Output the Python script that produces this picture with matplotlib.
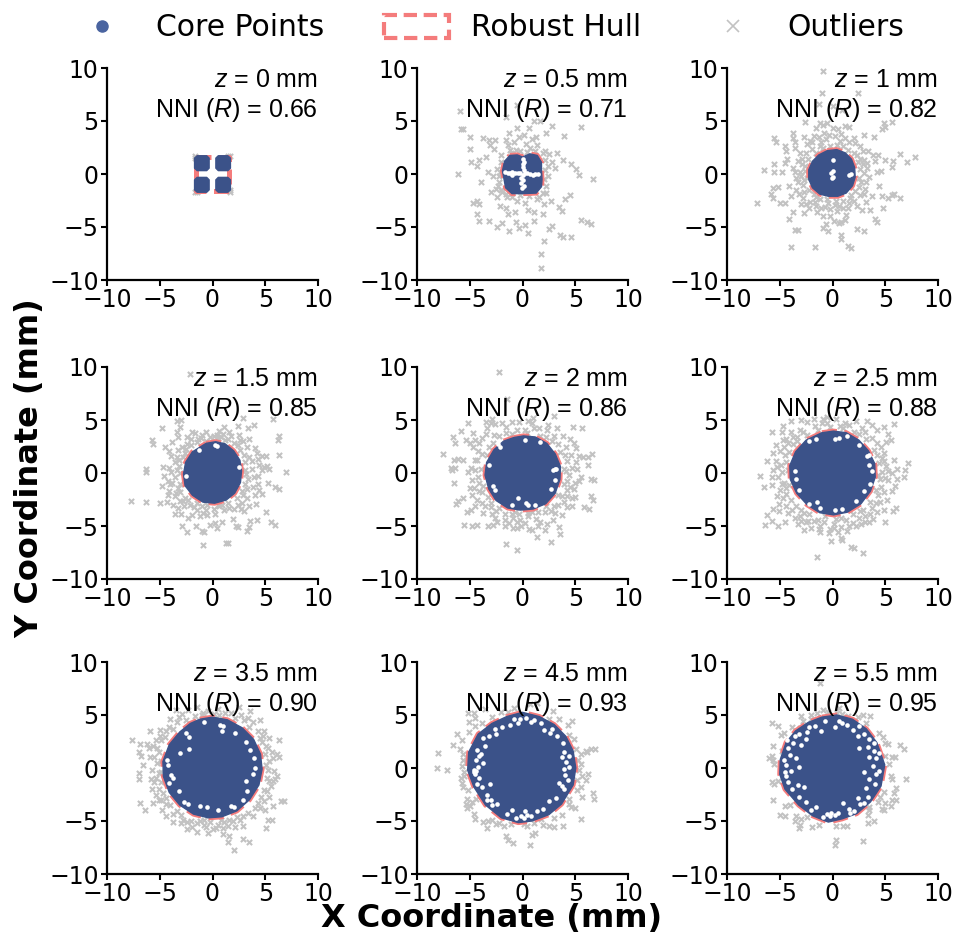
import matplotlib
matplotlib.use("Agg")
import matplotlib.pyplot as plt
from matplotlib.lines import Line2D
from matplotlib.patches import Patch

# All values are hand-read estimates from the reference. The outlier lists are a
# subset of what the picture shows, and the dense core is drawn as a filled outline
# with its visible holes listed, rather than as thousands of individual points.
z_labels = ["0", "0.5", "1", "1.5", "2", "2.5", "3.5", "4.5", "5.5"]
nni_values = ["0.66", "0.71", "0.82", "0.85", "0.86", "0.88", "0.90", "0.93", "0.95"]
axis_ticks = [-10, -5, 0, 5, 10]

hull_z0 = [(-1.6,1.6),(1.6,1.6),(1.6,-1.6),(-1.6,-1.6)]
hull_z05 = [(-1.2,1.75),(-.5,1.8),(0,1.6),(.7,1.9),(1.4,1.75),(1.8,1.1),(1.8,.3),(1.85,-.5),(1.8,-1.2),(1.3,-1.8),(0,-1.85),(-1,-1.85),(-1.6,-1.3),(-1.75,-.5),(-1.9,.3),(-1.7,1.2)]
hull_z1 = [(-.5,2.2),(.4,2.3),(1.2,2),(1.8,1.4),(2.1,.6),(2.15,-.3),(1.9,-1.1),(1.3,-1.8),(.5,-2.1),(-.4,-2.1),(-1.2,-1.9),(-1.9,-1.3),(-2.25,-.5),(-2.25,.4),(-1.9,1.2),(-1.3,1.8)]
hull_z15 = [(-.6,2.8),(.3,2.95),(1.2,2.75),(2,2.1),(2.6,1.2),(2.75,.2),(2.65,-.9),(2.1,-1.9),(1.3,-2.55),(.2,-2.85),(-.9,-2.75),(-1.9,-2.1),(-2.6,-1.2),(-2.75,-.1),(-2.55,1),(-1.9,2)]
hull_z2 = [(-.8,3.35),(.1,3.5),(1.2,3.4),(2.3,2.8),(3.1,1.8),(3.6,.6),(3.55,-.6),(3.1,-1.9),(2.2,-2.9),(1,-3.4),(-.2,-3.5),(-1.4,-3.3),(-2.5,-2.6),(-3.2,-1.5),(-3.55,-.2),(-3.4,1),(-2.7,2.2),(-1.8,3)]
hull_z25 = [(-1,3.8),(.1,3.95),(1.3,3.8),(2.5,3.1),(3.4,2.1),(4,.9),(4.05,-.4),(3.6,-1.7),(2.7,-2.9),(1.4,-3.7),(.1,-3.95),(-1.2,-3.75),(-2.4,-3),(-3.4,-1.9),(-4,-.6),(-4.05,.7),(-3.5,2),(-2.5,3.1)]
hull_z35 = [(-1.2,4.6),(0,4.8),(1.4,4.55),(2.8,3.8),(3.9,2.7),(4.55,1.3),(4.7,-.1),(4.4,-1.6),(3.5,-3),(2.3,-4.05),(.9,-4.6),(-.4,-4.7),(-1.8,-4.35),(-3.1,-3.5),(-4.1,-2.3),(-4.65,-.8),(-4.7,.6),(-4.1,2.2),(-3.1,3.4),(-2.1,4.2)]
hull_z45 = [(-1.5,4.85),(0,5.25),(1.6,4.85),(3,4.1),(4.1,3),(4.8,1.6),(5.05,0),(4.8,-1.6),(3.7,-3.4),(2.5,-4.4),(.9,-5),(-.4,-5.15),(-2,-4.7),(-3.5,-3.5),(-4.6,-1.8),(-5.2,-.2),(-5.1,1.5),(-4.2,3.2),(-2.9,4.2)]
hull_z55 = [(-1,4.8),(.4,5),(1.9,4.6),(3.2,3.7),(4.2,2.4),(4.95,.3),(4.6,-1.7),(3.6,-3.2),(2.3,-4.3),(.9,-4.8),(-.4,-5.1),(-1.9,-4.5),(-3.2,-3.5),(-4.5,-2),(-5,-.6),(-4.95,.8),(-4.4,2.4),(-3.5,3.5),(-2.3,4.3)]

core_blobs_z0 = [
    [(-1.45,1.72),(-.55,1.72),(-.32,1.5),(-.32,.55),(-.55,.32),(-1.45,.32),(-1.7,.55),(-1.7,1.5)],
    [(.55,1.72),(1.45,1.72),(1.7,1.5),(1.7,.55),(1.45,.32),(.55,.32),(.32,.55),(.32,1.5)],
    [(-1.45,-.32),(-.55,-.32),(-.32,-.55),(-.32,-1.5),(-.55,-1.72),(-1.45,-1.72),(-1.7,-1.5),(-1.7,-.55)],
    [(.55,-.32),(1.45,-.32),(1.7,-.55),(1.7,-1.5),(1.45,-1.72),(.55,-1.72),(.32,-1.5),(.32,-.55)],
]

gaps_z0 = []
gaps_z05 = [(-1.4,.05),(-1.2,.1),(-.95,-.05),(-.7,.08),(-.45,.05),(-.2,.05),(0,-.05),(.2,.1),(.45,.05),(.7,-.02),(.95,-.05),(1.2,0),(1.45,.0),(.1,.4),(0,.65),(.05,.9),(.1,1.15),(.05,1.4),(-.1,-.35),(.05,-.6),(-.1,-.85),(.1,-1.1),(-.05,-1.35),(-1.65,.15),(-.95,.2)]
gaps_z1 = [(0,1.3),(0,.3),(.05,-.3),(-.05,-.4),(1.8,0),(1.55,-.05),(-.1,.05)]
gaps_z15 = [(.2,2.6),(.4,2.55),(-1.3,2.2),(2.5,.6),(-2.5,-.3)]
gaps_z2 = [(-2.3,2.7),(-2.1,2.5),(3.2,.4),(3.05,.35),(2.9,.3),(-3.2,.8),(1.7,2.9),(-2.8,-1.2),(-2.6,-1.6),(-.4,-2.4),(.3,-2.8),(.5,-3),(1.2,-3),(-1,-3),(3.1,-.7),(2.7,-1.5),(.2,3.1)]
gaps_z25 = [(-2.2,3),(-1.6,3.2),(.2,3.2),(.6,3.3),(1.4,3.5),(2.5,2.6),(3.3,1.6),(3.5,1.7),(3.5,.8),(-3.6,.2),(-3.5,-.6),(-3.2,-1.6),(-2.2,-2.9),(-1.5,-2.7),(-1.2,-3.3),(.2,-3.5),(.9,-3.4),(2.2,-2.6),(3,-1.7),(3.6,-1),(3.7,.2)]
gaps_z35 = [(-2.5,3.3),(-2.2,2.9),(.7,4.1),(1,4),(.9,3.5),(2.1,3.3),(3.2,2.5),(3.6,1.7),(3.9,.9),(4,0),(3.8,-.6),(3.2,-1.2),(-4.3,.8),(-4.2,.3),(-3.9,-.7),(-3.7,-.9),(-4.1,-1.4),(-3.2,-2.2),(-2.7,-3.2),(-2.3,-3.4),(-1.2,-3.6),(-.5,-3.7),(.5,-4),(1.8,-3.6),(2,-3.7),(2.9,-3),(3.3,-2.2),(-2.2,1.8),(-3.1,1.4),(-.8,4.3)]
gaps_z45 = [(-1.2,4.1),(-.4,4.2),(-.2,4.6),(.3,4.7),(.8,4.3),(1.8,4.2),(2,3.6),(2.6,3.3),(3.3,3),(3.8,2.4),(3.9,1.5),(3.7,1),(4.1,.6),(3.9,-.1),(4,-.7),(4.3,-1.1),(3.5,-1.4),(3.9,-2),(3.2,-2.8),(2.5,-3.1),(1.9,-3.9),(.8,-4.5),(.2,-4.1),(-.6,-4.7),(-1,-4),(-1.5,-4.3),(-2.4,-3.4),(-3,-3),(-3.4,-2.5),(-3.8,-1.8),(-3.1,-1.5),(-4.3,-1.5),(-4.5,-.6),(-4.6,-.2),(-4.4,.8),(-3.9,1.3),(-4.3,1.7),(-3.6,2.1),(-3.2,3),(-2.5,3.2),(-1.9,3.9),(-4.1,-.9),(-4.6,-.4),(-4.4,-.3),(-4.2,.1),(-3.7,.5),(-4.1,1.1),(-3.4,-3),(-2.9,-3.5),(-.1,-4.5),(.4,-4.4),(.1,-4.7),(1.4,-4.1),(3.7,-1.7),(4.4,.1),(4.4,1.1),(2.8,3.7),(1.1,4.5),(-.8,4.6),(-2.6,3.7),(-3.7,2.8)]
gaps_z55 = [(-.7,4.4),(.2,3.9),(.6,4.4),(1.4,4.1),(1.9,3.6),(2.5,4),(3,3.2),(2.4,3),(3.5,2.7),(3.4,2),(3.9,1.6),(4.1,.9),(3.5,1),(3.8,.2),(4.1,-.6),(3.5,-1),(4,-1.5),(3.2,-1.9),(3.4,-2.7),(2.4,-2.8),(2.6,-3.4),(1.6,-3.9),(1,-3.3),(.5,-4.2),(-.5,-4.3),(-.9,-4.6),(-1.6,-3.7),(-2,-4),(-2.5,-3.2),(-3.2,-2.7),(-3.8,-2),(-3.3,-1.6),(-4.2,-1.3),(-4.5,-.4),(-3.9,-.3),(-4.4,.3),(-4,1.2),(-3.5,.9),(-4.2,1.9),(-3.7,2.4),(-3,2.2),(-3.2,3.2),(-2.4,3.4),(-2.5,2.7),(-1.7,4),(-1.1,3.5),(-2.7,-1.8),(2.5,1.9),(3,-.4),(-3.2,.1),(-.2,-4.5),(.2,-4.4),(-.1,-4.2),(-4.4,-.8),(-4.6,.8),(-4.3,2.6),(-3.6,3),(1.7,-4.2),(2,-4.1),(3,-3.3),(4.4,-.3),(4.4,1.4),(3.9,2.4),(.9,4.2),(-2.2,3.9)]

outliers_z0 = [(-1.7,1.7),(1.7,1.7),(-1.7,-1.7),(1.7,-1.7),(-1.65,1.5),(1.65,-1.5),(-1.5,-1.7),(1.5,1.7)]
outliers_z05 = [(-5.9,5.9),(-5.8,4.2),(-5.6,4.2),(-5,3.5),(-5,2.4),(-4.9,1.1),(-6.1,0),(-4.1,1.3),(-4.3,.8),(-3.7,3.4),(-3.2,3.2),(-2.6,3.2),(-3.1,2.7),(-2.7,2.4),(-3.5,1.6),(-3.3,.2),(-3.9,-.8),(-2.8,-.2),(-3,-1.7),(-2.5,-1.4),(-4.3,-2.5),(-4.7,-2.7),(-4.1,-2.8),(-2.4,-2.2),(-2.1,-3),(-1.6,-3.2),(-4.3,-3.8),(-4.1,-4.4),(-3.2,-4.4),(-1.9,-4.6),(-2.4,-5),(-1.3,-5.4),(-.6,-4.5),(.2,-4.8),(-.3,-5.1),(.5,-5.6),(1.1,-4.4),(1.9,-3.8),(1.1,-3.6),(.5,-3.4),(-.7,-3.6),(-1.4,-3.8),(2.8,-4.9),(2.5,-5.2),(2,-6.3),(1.8,-7.5),(1.8,-8.9),(3.6,-5.8),(3.8,-5.9),(4.6,-5.9),(5.5,-4.3),(6.1,-4.5),(6.5,-4.7),(4.5,-2),(4,-2.4),(3.5,-3.1),(3.7,-3.5),(6.7,-.5),(5.4,-.1),(5.1,.5),(4.6,.9),(3.8,1.3),(3.3,2),(3.9,3.6),(5.5,4.4),(2.8,4.5),(2.2,3.9),(1.3,3.5),(.6,4.3),(-.5,4.3),(-1.3,3.9),(-1.6,3.2),(-1.4,2.7),(-.3,3.5),(.3,2.8),(1.4,2.7),(2.1,2.2),(2.5,1.9),(2.8,1.1),(2.4,.8),(3.1,.6),(2.2,-1.1),(2.4,-.2),(-2.2,-.8),(-2.4,.5),(-1.9,-1.7),(-1,-2.2),(-.5,-2.5),(.2,-2.7),(1.4,-2.4),(2,-2.8),(-1.6,5.4),(-.5,6.5),(1.1,5),(1.7,5),(2.7,-2.5),(1.6,-2.2),(-1.2,2.3),(-.8,3),(.7,2.5),(-2,1.8),(-2.2,-.2),(-2.3,-1.1),(-1.5,-2.2),(1.9,2),(-.6,2.3),(.1,3.7),(.9,3.3),(-.2,-2),(.6,-2.1),(2.2,-1.8),(-.2,2.2),(.4,2.1),(-1.1,2),(-2,1.1),(-2.1,.2),(-2,-1.5),(1.2,2.2),(2.1,1.3),(2.1,.4),(2,-.5),(1.9,-1.8),(-1.6,-1.9)]
outliers_z1 = [(-.9,9.7),(-1,7.6),(2.4,7.6),(-1.3,6.6),(0,6.4),(.9,6),(-2.6,4.9),(-1.2,4.8),(-.5,4.8),(-1.6,4.3),(-.9,4.6),(0,4.3),(.5,4.2),(1.2,4.5),(1.6,4.4),(3,3.7),(3.9,3.5),(4.9,4.8),(4.7,4.2),(5,4.4),(5.6,4.9),(-3.7,3.9),(-3.7,3.4),(-3.6,3),(-5.5,3.4),(-5.4,3),(-4.5,2.6),(-4.4,2.2),(-3.6,2.5),(-2.7,3.5),(-2.4,2.8),(-1.8,3.6),(-1.1,3),(-.6,3.3),(.2,3.6),(.7,3.1),(1.6,3),(2.1,2.9),(2.6,2.6),(3.4,2.2),(3.8,1.8),(4.3,1.8),(4,1.2),(5,1.3),(5.7,1.2),(6.4,1.9),(7.1,1.1),(7.8,1.6),(5.6,.7),(4.6,.3),(4.2,.2),(3.3,.6),(2.9,.9),(3.5,-.3),(-6.5,.4),(-5.5,.9),(-5.5,.2),(-4.8,.2),(-4.5,1),(-4.3,1.4),(-3.7,.6),(-3.1,.2),(-3.3,-.8),(-2.8,-1),(-2.6,.3),(-2.9,1.4),(-1.9,2.4),(-1.2,2.6),(-7.2,-2.7),(-5.8,-1.9),(-5.6,-2.3),(-5,-2.7),(-4.5,-2.7),(-5.6,-1.3),(-5.2,-1.2),(-4.1,-1.1),(-3.9,-2.1),(-3.5,-1.5),(-2.8,-2.3),(-2.5,-2.8),(-3.7,-3.6),(-4.1,-4.2),(-3.6,-5.3),(-3.3,-5.3),(-2.7,-3.7),(-2.2,-3.2),(-1.7,-2.6),(-1.1,-3.2),(-.9,-4),(-.6,-4.7),(-.9,-5.1),(-.4,-5.4),(.1,-4.4),(.6,-4.6),(.8,-4.5),(.4,-3.5),(1,-3.2),(1.6,-2.7),(2.3,-3),(2.6,-2),(3,-1.9),(3.7,-2.1),(3.6,-3.4),(4,-4.2),(4.2,-4.5),(4.8,-3.2),(5.3,-2.3),(6.4,-2.3),(5.8,-1.9),(5.6,-2),(4.7,-2.1),(4.4,-1.1),(3,-5.4),(2.3,-5.2),(.8,-5.8),(.8,-6.1),(1.5,-6.8),(1.8,-7),(-3.9,-6.9),(-1.7,-6.9),(1.3,-3.9),(-1.6,-2.2),(-.4,-2.7),(.3,-2.5),(1.8,-2),(2.3,1.8),(2.6,1.4),(-2.5,2),(-2.7,-1.7),(-2.4,-.4),(-2.9,.9),(2.7,-.8),(3,.1)]
near_z1 = [(-.9,2.5),(-.2,2.6),(.4,2.7),(1,2.6),(1.5,2.3),(2,2),(2.4,1.1),(2.6,.5),(2.5,-.4),(2.5,-1.2),(2.1,-1.6),(1.7,-2.3),(1,-2.5),(.2,-2.9),(-.5,-2.4),(-1.2,-2.4),(-1.8,-1.9),(-2.2,-1.5),(-2.7,-.6),(-3,-.2),(-2.6,.8),(-2.3,1.4),(-1.6,2),(-1.9,3),(-.8,3.9),(-.3,3.7),(.8,3.8),(1.2,3.4),(2,3.4),(2.9,2.2),(3,1.3),(3.3,1),(3.2,-.8),(3.1,-1.4),(2,-2.5),(1.5,-3.2),(.6,-3),(-.2,-3.3),(-.7,-3.1),(-1.6,-3),(-2.1,-2.6),(-3.2,-1.9),(-3.5,-.4),(-3.6,.2),(-3.3,1.2),(-3.1,2),(-2.1,3.1),(-1.3,3.5),(1.2,-4.3),(-.2,-4),(-1.5,-3.6),(-3,-2.8),(3.2,-2.6),(2.8,-3.4)]
outliers_z15 = [(-2.1,9.3),(-3,5),(-3.4,4.9),(-3.1,4.3),(-4.8,4.2),(-3.4,3.9),(-5.7,3.1),(-5.6,2.7),(-4.5,2.5),(-4.1,2.1),(-3.3,3.4),(-2.4,3.4),(-1.7,3.8),(-1.4,3.2),(-.6,3.9),(.1,3.5),(.6,4),(1.2,3.1),(1.6,3.9),(2.4,4.4),(2.9,5.2),(2.5,3.6),(3.4,4.2),(3.9,4.5),(5.7,5.1),(6.3,3.5),(6.2,3.1),(2,2.8),(2.9,3),(3.3,2.5),(4,2.4),(4.2,1.9),(4.7,1.6),(4.3,1.3),(5.1,1.6),(6.3,1.7),(4.9,.6),(5.4,.4),(4.7,.3),(5.2,.7),(7,.1),(3.1,1),(3.7,.4),(3.2,-.1),(3.9,-.4),(3.1,-1),(5.3,-.9),(5.9,-1.3),(6.3,-1.5),(3.8,-1.3),(4.4,-1.6),(4.7,-2),(4,-2.1),(3.3,-2.4),(2.8,-2.8),(5.1,-3.7),(5.5,-4.6),(5.9,-4.9),(4.2,-4.4),(3.6,-4.5),(3.5,-5.1),(3.3,-5.5),(2.4,-5.1),(2.2,-5),(1.9,-4.3),(2,-3.4),(1.1,-3.5),(.6,-3.1),(.9,-4.6),(.2,-4.7),(-.2,-4.9),(-.8,-5.6),(-1,-5.5),(-.9,-6.8),(1.3,-6.6),(1.5,-6.6),(.4,-5.2),(-1.6,-5),(-2.4,-5.6),(-2.9,-5),(-2.3,-4.2),(-1.2,-4.1),(-.6,-3.5),(-1.8,-3.2),(-2.7,-3.1),(-3.3,-3.3),(-3.6,-3.9),(-2.8,-2.6),(-3.6,-2.2),(-4.1,-1.7),(-4.8,-1.2),(-3.6,-.4),(-4.6,-.3),(-4.3,-2.7),(-6.3,-2.7),(-5,-2.8),(-7.7,-2.6),(-6.3,.4),(-6.3,.1),(-4.7,.6),(-3.9,.1),(-3.6,1),(-3.2,.7),(-3.4,1.5),(-3.8,2.9),(-2.6,1.9),(-2.9,2.5),(-2.4,2.7),(-1.5,2.9),(-.6,3),(.8,3.4),(1.5,3.2),(-2.3,-2.5),(-1.5,-2.8),(-.5,-3),(.5,-3),(1.5,-2.8),(2.3,-2.4),(2.8,-1.7),(3.1,.3),(3,1.7),(-3.1,-1),(-3.1,-1.8),(-3.1,0),(-2.8,1.5),(-2,3.2),(.2,3),(2.4,2.6)]
near_z15 = [(-1.1,3.3),(-.2,3.4),(.5,3.3),(1.8,3.5),(2.6,2.2),(3.5,1.5),(3.7,1.1),(3.4,-.6),(3.3,-1.5),(2.9,-2.1),(2.4,-3),(1.6,-3.3),(.9,-3),(.1,-3.4),(-.5,-4),(-1,-3.1),(-1.5,-3.5),(-2.1,-3),(-2.6,-2.4),(-3.1,-2.6),(-3.3,-1.4),(-3.8,-.9),(-3.5,-1.9),(-4.2,-.8),(-4.1,.5),(-3.4,.3),(-3.2,1.2),(-3.9,1.6),(-3.3,2.2),(-2.5,2.3),(-2,2.6),(-1.9,3.9),(-1,3.6),(.4,3.6),(1,3.7),(1.1,4.3),(2.6,3.1),(3.5,3.2),(4.4,.8),(4.3,-.3),(4.3,-1),(4.1,-2.9),(3.5,-3.1),(3,-3.6),(2.7,-3.4),(.2,-3.9),(-.9,-3.8),(-1.9,-4),(-3,-3.9),(-4.2,-2.1),(-4,-1),(-3.7,-3)]
outliers_z2 = [(-2.2,9.5),(-1.5,7),(-2.9,5.1),(-3,4.7),(-5.2,4.7),(-5.8,4),(-6.6,3.4),(-6.4,2.8),(-7.5,1.8),(-6.5,1.2),(-6.1,1.3),(-5.6,1.2),(-6.8,.5),(-6.7,.3),(-6.4,.5),(-6.5,-.9),(-5,-1.4),(-4.8,-2.1),(-6.3,-2.9),(-6.1,-2.6),(-5.6,-2.4),(-5.3,-3.7),(-4.9,-3.5),(-4.5,-3.1),(-5.5,-4.9),(-4.8,-5),(-4.3,-4.9),(-3.3,-5),(-2.8,-4.9),(-2.4,-4.6),(-1.7,-5),(-.9,-5.2),(-.5,-5.2),(-.1,-5),(.6,-5.3),(.9,-5.4),(1.5,-5),(1.4,-6),(2.7,-6.5),(3.6,-5.8),(-1.6,-6.7),(-.5,-7.3),(2.1,-5.4),(2.3,-4.8),(2.9,-4.4),(3.5,-5.1),(.5,-4.1),(-.9,-4.2),(-1.7,-3.9),(-2.9,-3.9),(-3.7,-3.8),(-3.8,-2.8),(-3.3,-2.3),(-4.1,-1.7),(-4.8,-.7),(-4.2,-.4),(-4.9,.5),(-4.5,1.2),(-4.2,2.1),(-5,2.8),(-5.4,3.1),(-4.7,3.8),(-3.8,3.3),(-3.5,4.8),(-2.6,4.6),(-1.6,3.8),(-1,4.8),(-.3,4.8),(.5,4.9),(1,5.2),(1.6,4.2),(2.4,4.5),(3.3,4.2),(3,5.4),(4.8,4.3),(5.6,4.2),(4.5,3.2),(4.1,2.5),(5.1,2.4),(4.6,1.7),(6.6,1.8),(6.2,1.5),(5.7,1.5),(5.4,1.6),(6.2,.8),(5.2,.4),(4.7,.5),(4.2,1.1),(5.5,-.4),(5.4,-.8),(6.5,-.6),(6.8,-.7),(4.9,-1.5),(4.5,-1.3),(4.2,-2.2),(3.7,-2.2),(5,-2.3),(6.5,-2.2),(6.7,-2.5),(5.8,-3.2),(6.3,-3.4),(4.7,-3.1),(3.7,-4),(2.7,-3.6),(1.5,-3.7),(-.7,-3.7),(-2.2,-3.3),(-3,-2.8),(-3.7,-1.2),(-3.9,.4),(-3.8,1.8),(-2.8,2.8),(-2.2,3.5),(-1,3.7),(.4,3.8),(1.7,3.5),(2.8,3),(3.6,2),(3.9,.4),(3.9,-1),(3.4,-2.1),(2.2,-3.1),(-.3,-3.9),(.9,-3.7)]
near_z2 = [(-3.2,2.5),(-3.4,1.7),(-4.3,1.2),(-4.1,-.9),(-3.8,-1.8),(-3,-3.2),(-2.5,-3.6),(-1.7,-4.4),(-1,-3.9),(-.2,-4.4),(.5,-3.8),(1.3,-4.3),(2.1,-3.7),(3,-3.1),(3.4,-3),(3.9,-2.7),(4.2,-1.6),(4.2,-.8),(4.4,-.2),(4.1,.2),(4,1.7),(3.4,2.7),(3,3.5),(2.2,3.4),(1.1,4.2),(.2,4.1),(-.5,4.1),(-1.6,4.3),(-2.7,3.6),(-3.5,3.7),(-4.1,2.8),(-4.7,2.5),(-4.5,.3),(-5.2,.1),(-4.6,-1.4),(-4.3,-2.5),(-3.6,-3.1),(-2.6,-4.2),(-1.3,-4.7),(-.5,-4.6),(.2,-4.7),(1.7,-4.6),(3.1,-3.8),(4.2,-3.2),(4.7,-2.4),(5,-.9),(5.1,1),(4.9,2.8),(3.8,3.5),(2.3,4.1),(.9,4.7),(-1.9,4.7),(-3.4,4.2),(-4.5,3.1)]
outliers_z25 = [(-5.7,3.9),(-4.8,3.9),(-4.6,2.5),(-5.6,1.9),(-5.4,1.1),(-6.2,1.1),(-6.9,-.3),(-6.5,-1.3),(-5.7,-.4),(-5.6,.3),(-4.8,.1),(-4.9,.8),(-4.5,1.7),(-3.7,2.7),(-3.4,3.4),(-2.8,3.9),(-4.7,4.4),(-3.9,4.9),(-3,5),(-1.8,5.1),(-1,4.7),(-.5,5.3),(.3,5.1),(1.2,4.7),(2.2,4.9),(2.8,4.2),(3.3,4.9),(4.2,4.1),(4.9,4.3),(5.8,4.6),(5.5,3.1),(5.1,2.9),(4.6,2.5),(4.2,1.7),(4.9,1.1),(6.1,.4),(6.9,.3),(7.2,.9),(5.3,.2),(4.7,.1),(4.5,-.6),(5.3,-.7),(6.1,-.6),(6.8,-.4),(5.6,-1.7),(4.9,-1.8),(4.5,-2.7),(4.9,-3.5),(5.7,-3.6),(6,-3.3),(5,-4.6),(3.5,-4.6),(3.1,-4.6),(2.5,-4.2),(1.3,-4.4),(.8,-5.1),(.5,-5.6),(-.2,-5.3),(-.3,-5.7),(-.1,-6.4),(-1.2,-5),(-2,-5.2),(-2.7,-5.4),(-3.3,-4.8),(-3.1,-4.1),(-3.8,-3.5),(-4.4,-3.1),(-5.1,-2.9),(-5.6,-3.4),(-6.2,-4),(-5.7,-4.5),(-6.4,-4.9),(-5.2,-5),(-4.5,-4.6),(-5,-1.6),(-4.6,-.9),(-4.4,-2),(-3.9,-2.5),(-4.1,-1.1),(-4.2,.3),(-4.4,1),(-3,-3.5),(-2.2,-3.9),(-1.4,-4.4),(.3,-4.3),(1.9,-3.9),(2.9,-3.5),(3.6,-2.7),(4.1,-1.6),(4.3,-.2),(4.4,.9),(3.9,2.2),(3.2,3.2),(2,3.9),(1,4.2),(-.2,4.3),(-1.4,4.1),(-2.4,3.6),(-4.1,2),(1.8,-7),(2,-7.1),(2.9,-7.5),(.8,-6.1),(-1.5,-7.9),(1.4,-5.5),(2.2,-5),(3.6,-3.9),(.9,-6.3),(-3.4,3),(-4.4,3.2),(-1.3,-5.3),(-2.3,-4.5),(-3.6,-4.2)]
near_z25 = [(-3.7,3.4),(-4.2,2.8),(-5,2.1),(-5.3,.6),(-5.2,-.4),(-4.8,-1),(-4.4,-1.4),(-4.7,-2.4),(-3.5,-3.1),(-2.7,-3.8),(-2.5,-4.6),(-1.8,-4.5),(-.8,-4.6),(-.7,-4.1),(.1,-4.8),(.8,-4.2),(1.9,-4.7),(2.6,-3.6),(3.1,-4.1),(3.7,-3.3),(4.1,-2.8),(4.3,-2.1),(4.6,-1.3),(5,-.5),(5.6,0),(5.1,.7),(4.7,1.4),(4.9,1.9),(4.2,2.8),(3.7,3.3),(3.1,3.9),(2.5,3.7),(1.6,4.5),(.7,4.4),(-.5,4.7),(-1.7,4.4),(-3.1,4.1),(-3.9,3.9),(-4.7,3.1),(-5.4,2.6),(-5.7,-1.1),(-5.3,-2.2),(-5.1,-3.6),(-4.2,-3.8),(-3,-4.5),(-1.2,-5.6),(.1,-5.2),(1.6,-5),(2.7,-4.8),(3.8,-4.3),(4.2,-3.7),(5.2,-2.5),(5.9,-1.2),(5.8,1.2),(5.3,3.7),(3.7,4.5),(-.9,5.1),(-2.4,4.8)]
outliers_z35 = [(-7.6,2.6),(-7,1.5),(-6.9,2.3),(-6.2,2.3),(-6,1.9),(-5.6,2.1),(-5.9,1),(-6.8,1.1),(-6.6,.3),(-7,-.5),(-7,-1),(-5.8,-1),(-5.4,-.9),(-5.7,-2),(-5.4,-2.5),(-6.9,-3.3),(-6.4,-4),(-5.6,-3.3),(-4.9,-3),(-4.8,-4),(-4.4,-4.5),(-3.7,-5.1),(-3,-5.2),(-2.4,-5.8),(-1.5,-5.2),(-1.5,-6),(-.8,-5.4),(-.4,-6.1),(0,-5.8),(.5,-5.4),(1,-5.7),(1,-6.2),(1.5,-5.5),(2.1,-5.6),(2.9,-5.5),(2.9,-6.7),(1.6,-6.4),(1.5,-7),(2,-7.7),(3.5,-7),(5.1,-5.7),(5.3,-4.9),(5.6,-4.9),(5,-4),(5.7,-3.6),(6.5,-3.1),(6.8,-3.1),(5.2,-2.2),(5.5,-1.7),(5.9,-1),(6.1,-.8),(5.8,-.3),(5.3,-.2),(5.4,.7),(6.3,1),(6.1,1.3),(5.6,1.5),(5.1,2.1),(6.3,2.6),(5.4,2.8),(4.8,3),(4.9,3.5),(4.5,4.5),(3.4,4.7),(3.6,5.4),(2.7,5),(2.5,5.8),(1.2,5.2),(.1,5.1),(-.9,5.2),(-1.5,5.8),(-2.3,5.5),(-3.5,5.5),(-3.2,4.8),(-4,4.6),(-4.1,3.9),(-5,3.6),(-5.9,3.5),(-4.9,2.6),(-5.1,1.5),(-5.3,.5),(-5.1,-.5),(-4.9,-1.3),(-4.7,-2.4),(-4,-3.5),(-3,-4.4),(-2,-5),(-.8,-4.9),(.8,-4.9),(2.3,-4.6),(3.4,-4.2),(4.3,-3.3),(4.9,-2.1),(5.2,-.9),(5.1,.3),(5,1.3),(4.5,2.8),(3.5,3.9),(2.1,4.7),(.6,5),(-1,5),(-2.5,4.5),(-3.7,3.7),(-4.5,2.9),(-4.9,.7),(-4.9,-.4),(-4.4,-2.8),(-3.4,-4.1),(-1.2,-5),(1.6,-4.9),(2.9,-4.5),(4,-3.8),(4.6,-2.7),(-2.4,-5.1),(-.2,-5.1)]
near_z35 = [(-5.5,1),(-5.3,1.9),(-5.7,-.2),(-5.5,-1.3),(-5.1,-2),(-5.1,-3),(-4.4,-3.4),(-3.7,-4.3),(-2.8,-4.9),(-1.9,-5.6),(-.6,-5.6),(.3,-5.7),(1.1,-5.1),(1.9,-5),(2.6,-4.9),(3.8,-4.5),(4.5,-3.8),(4.9,-3.1),(5.4,-2.7),(5.7,-1.2),(5.4,-1.2),(5.7,.9),(5.3,1.9),(4.7,2.5),(4.3,3.5),(3.8,4.3),(3,4.5),(1.8,5.2),(.5,5.6),(-.4,5.4),(-1.7,4.9),(-2.9,5.1),(-3.4,4.3),(-4.4,3.5),(-5,3),(-5.4,2.6)]
outliers_z45 = [(-8,1.4),(-8.1,0),(-7.2,-.2),(-6.6,2.2),(-6.2,3.2),(-5.7,2.6),(-5.9,1.8),(-5.6,1.3),(-5.6,.8),(-5.5,-.8),(-5.7,-1.4),(-5.6,-1.8),(-5.2,-2.1),(-5.3,-2.9),(-5,-3.6),(-5.3,-3.8),(-4.8,-3.2),(-4.6,-4.3),(-4.5,-4.8),(-3.7,-5.1),(-3.3,-5),(-3.4,-5.7),(-2.5,-5.3),(-1.8,-5.5),(-1.6,-6.4),(-1.4,-6.8),(-.9,-7.1),(.7,-7.3),(1.2,-6.1),(.9,-6.3),(.4,-5.5),(1.1,-5.2),(1.9,-5.4),(2.5,-5.5),(3,-5.6),(3.8,-5.5),(5.5,-4.8),(5.6,-2.7),(5,-3.8),(4.6,-3.7),(4.4,-2.9),(5.5,-1.8),(6.7,-2.4),(6.8,-2.9),(6,-1.1),(5.6,-.8),(6.2,-.6),(5.5,.4),(6.1,1.5),(6.5,1.8),(6,1.6),(6.9,1.8),(5.5,1.3),(4.9,2.7),(4.4,3.1),(4.7,4.4),(4.3,4.1),(3.5,4.6),(2.5,4.6),(2.9,5.4),(1.4,6.1),(.7,6),(-.8,5.7),(-2,5.3),(-3.6,5.6),(-5.2,5.2),(-4.6,5.2),(-4.5,4.7),(-5.1,4.3),(-5.1,3.4),(-4.5,4),(-3.8,4.2),(-5.5,-.4),(-5.7,.2),(-5.3,.6),(-5.8,-.9),(-5.4,-3.4),(-4.4,-2.9),(-2.9,-4.9),(-2.2,-5.2),(-1.1,-5.3),(.1,-5.3),(1.8,-4.8),(3,-4.7),(3.7,-4.4),(4.4,-3.4),(5.2,-2.1),(5.2,-1.1),(5.4,-.2),(5.3,.8),(5.1,1.8),(-1.4,5.3),(-2.9,4.8)]
outliers_z55 = [(-5.7,4.2),(-5.2,4),(-3,4.9),(-2.8,4.4),(-2,5),(-2,4.6),(-1.2,4.7),(-1.5,5.2),(-.9,5.5),(-1.2,8),(.4,5.2),(.6,5.7),(.9,5.1),(2.4,4.8),(2.9,5),(3.6,4.9),(4.4,3.3),(4.8,2.9),(5,2.4),(5.3,2.3),(6.4,2.2),(6.8,1.8),(5,1.1),(5.6,1),(5.9,1),(5.4,.4),(5.5,-.8),(5.6,-1),(7,-1),(6,-1.9),(5.8,-2.4),(5.6,-3),(6,-3),(5.5,-3.6),(5,-3.3),(4.9,-4),(4.7,-3.9),(3.5,-3.7),(3.5,-4),(3.4,-4.4),(3.9,-5),(3.4,-5.2),(1.4,-5.5),(1,-5.5),(.3,-5.5),(-1.3,-5.4),(-1.9,-5.6),(-3.1,-5.4),(-3.2,-5.7),(-3.5,-4.5),(-3.6,-5),(-3,-4.8),(-4.5,-4.5),(-5,-4.4),(-5.6,-3),(-5.7,-1.3),(-5.5,-1.5),(-5.2,-1.2),(-5.6,.8),(-6,.9),(-5.5,.4),(-5.7,1.1),(-5.6,2.1),(-4.9,3.1),(-4.6,3.3),(-4.8,1.6),(-3.8,3.9),(-3.1,3.8),(.3,-6.8),(.2,-7.3),(2.9,-6.9),(-.4,5.3),(1.5,4.9),(3.2,4.2),(-2.4,-4.6),(-4,-3.5),(-4.5,-3.6),(4.3,-3.2),(4.5,-2.7),(4.9,-2.3)]

hulls = [hull_z0, hull_z05, hull_z1, hull_z15, hull_z2, hull_z25, hull_z35, hull_z45, hull_z55]
outliers = [outliers_z0, outliers_z05, outliers_z1 + near_z1, outliers_z15 + near_z15, outliers_z2 + near_z2,
            outliers_z25 + near_z25, outliers_z35 + near_z35, outliers_z45, outliers_z55]
gaps = [gaps_z0, gaps_z05, gaps_z1, gaps_z15, gaps_z2, gaps_z25, gaps_z35, gaps_z45, gaps_z55]

CORE = "#3B5289"
HULL = "#F47C7C"
GREY = "#C2C2C2"

plt.rcParams["mathtext.fontset"] = "custom"
plt.rcParams["mathtext.rm"] = "Liberation Sans"
plt.rcParams["mathtext.it"] = "Liberation Sans:italic"

W, H = 956, 940
fig = plt.figure(figsize=(W / 100, H / 100), dpi=100)
lefts = [107, 417, 727]
tops = [68, 367, 662]
size = 211

def closed(pts):
    return [p[0] for p in pts] + [pts[0][0]], [p[1] for p in pts] + [pts[0][1]]

for i in range(9):
    ax = fig.add_axes([lefts[i % 3] / W, 1 - (tops[i // 3] + size + 1) / H, size / W, (size + 1) / H])
    ax.set_xlim(-10, 10)
    ax.set_ylim(-10, 10)
    ax.set_xticks(axis_ticks)
    ax.set_yticks(axis_ticks)
    ax.tick_params(labelsize=17, length=4, width=1.5, pad=2)
    for s in ("top", "right"):
        ax.spines[s].set_visible(False)
    for s in ("left", "bottom"):
        ax.spines[s].set_linewidth(1.6)
    ox, oy = zip(*outliers[i])
    ax.scatter(ox, oy, marker="x", s=14, linewidths=1.5, color=GREY, zorder=2, clip_on=False)
    hx, hy = closed(hulls[i])
    ax.plot(hx, hy, color=HULL, lw=3.6, dashes=(3.0, 1.5), zorder=3)
    blobs = core_blobs_z0 if i == 0 else [hulls[i]]
    for b in blobs:
        bx, by = closed(b)
        ax.fill(bx, by, facecolor=CORE, edgecolor=CORE, lw=1.0, joinstyle="round", zorder=4)
    if gaps[i]:
        gx, gy = zip(*gaps[i])
        ax.scatter(gx, gy, marker="o", s=11, color="white", linewidths=0, zorder=5)
    ax.text(1.0, 0.945, rf"$z$ = {z_labels[i]} mm", transform=ax.transAxes, ha="right", va="center",
            family="Liberation Sans", fontsize=18, zorder=6)
    ax.text(1.0, 0.80, rf"NNI ($R$) = {nni_values[i]}", transform=ax.transAxes, ha="right", va="center",
            family="Liberation Sans", fontsize=18, zorder=6)

handles = [
    Line2D([], [], marker="o", ls="none", color="#4A64A0", ms=8),
    Patch(facecolor="none", edgecolor=HULL, lw=3, ls=(0, (3.2, 1.6))),
    Line2D([], [], marker="x", ls="none", color=GREY, ms=8, mew=1.2),
]
fig.legend(handles, ["Core Points", "Robust Hull", "Outliers"], ncol=3, loc="center",
           bbox_to_anchor=(487 / W, 1 - 28 / H), frameon=False, fontsize=21.5,
           columnspacing=2.0, handletextpad=0.73, handlelength=2.17, handleheight=0.8, borderpad=0)
fig.text(492 / W, 1 - 918 / H, "X Coordinate (mm)", ha="center", va="center", fontsize=23, fontweight="bold")
fig.text(30 / W, 1 - 468 / H, "Y Coordinate (mm)", ha="center", va="center", rotation=90, fontsize=23, fontweight="bold")
fig.savefig("out.png", dpi=100)
